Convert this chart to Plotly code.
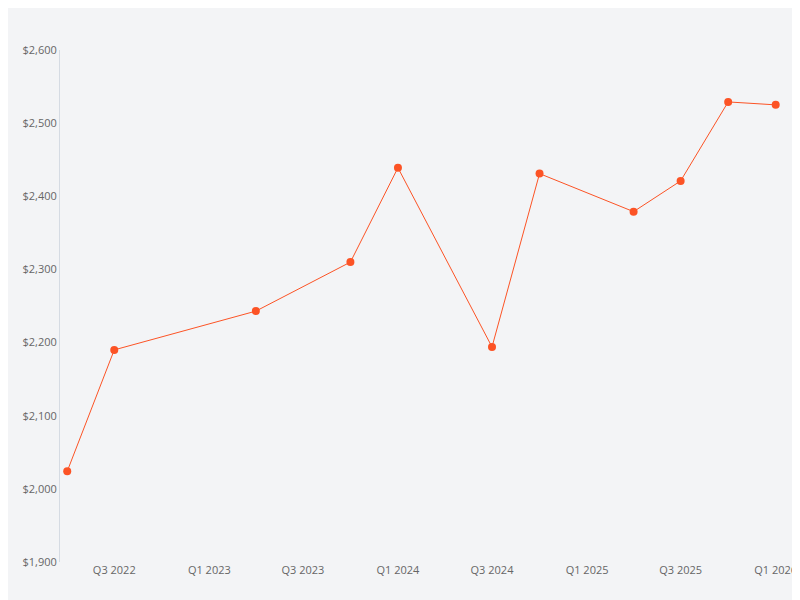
import plotly.graph_objects as go

dates = ["2022-04-01","2022-07-01","2023-04-01","2023-10-01","2024-01-01","2024-07-01",
         "2024-10-01","2025-04-01","2025-07-01","2025-10-01","2026-01-01"]
values = [2024, 2190, 2243, 2310, 2439, 2194, 2431, 2379, 2421, 2529, 2525]
series_name = "Tiara (Growth rate: 25%)"
color = "#fc5325"

fig = go.Figure(go.Scatter(x=dates, y=values, mode="lines+markers", name=series_name,
                           line=dict(color=color, width=1), marker=dict(color=color, size=8)))
fig.update_layout(
    width=800, height=600, paper_bgcolor="#f3f4f6", plot_bgcolor="#f3f4f6",
    font=dict(family="Open Sans", color="#666", size=11),
    margin=dict(l=52, r=23, t=42, b=46),
    showlegend=True,
    legend=dict(orientation="h", x=-0.012, y=1.008, xref="container", yref="container", xanchor="left", yanchor="top",
                font=dict(color=color, size=12, weight="bold"), bgcolor="rgba(0,0,0,0)"),
    xaxis=dict(type="date", range=["2022-03-18", "2026-01-19"], tickformat="Q%q %Y",
               tick0="2022-07-01", dtick="M6", showgrid=False, zeroline=False,
               showline=False, ticks=""),
    yaxis=dict(range=[1900, 2600], dtick=100, tickprefix="$", tickformat=",", showgrid=False,
               zeroline=False, showline=True, linecolor="#d5dbe3", linewidth=1, ticks=""),
)
fig.write_html("out.html")
